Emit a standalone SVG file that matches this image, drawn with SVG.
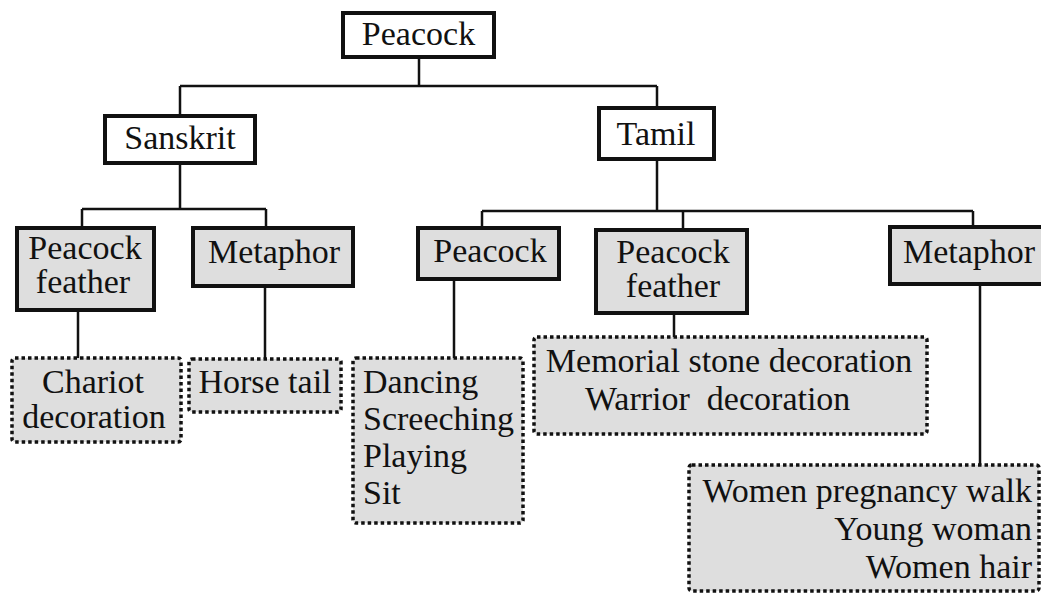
<svg xmlns="http://www.w3.org/2000/svg" width="1041" height="593" viewBox="0 0 1041 593">
<style>
text{font-family:'Liberation Serif',serif;font-size:34px;fill:#111}
.solid{fill:#fff;stroke:#111;stroke-width:4}
.sg{fill:#dedede;stroke:#111;stroke-width:4}
.dot{fill:#dedede;stroke:#111;stroke-width:3.5;stroke-dasharray:3.5 3}
.c{fill:none;stroke:#111;stroke-width:2.5}
</style>
<rect width="1041" height="593" fill="#fff"/>
<g id="connectors">
<path class="c" d="M419 57V86M180 86H657M180 86V116M657 86V108"/>
<path class="c" d="M180 163V209M82 209H266M82 209V228M266 209V228"/>
<path class="c" d="M657 159V211M482 211H973M482 211V228M683 211V230M973 211V230"/>
<path class="c" d="M78 310V358M265 286V359M454 279V358M674 313V337M980 286V465"/>
</g>
<g font-family="Liberation Serif, serif" font-size="34">
<g id="n-root"><rect class="solid" x="343" y="13" width="151" height="44"/><text x="418.5" y="45" text-anchor="middle">Peacock</text></g>
<g id="n-sanskrit"><rect class="solid" x="105" y="116" width="150" height="47"/><text x="180" y="149" text-anchor="middle">Sanskrit</text></g>
<g id="n-tamil"><rect class="solid" x="599" y="108" width="115" height="51"/><text x="656" y="145" text-anchor="middle">Tamil</text></g>
<g id="n-s-feather"><rect class="sg" x="17" y="228" width="137" height="82"/><text x="85" y="259" text-anchor="middle">Peacock</text><text x="83" y="293" text-anchor="middle">feather</text></g>
<g id="n-s-metaphor"><rect class="sg" x="193" y="228" width="160" height="58"/><text x="274" y="263" text-anchor="middle">Metaphor</text></g>
<g id="n-t-peacock"><rect class="sg" x="418" y="228" width="141" height="51"/><text x="490" y="262" text-anchor="middle">Peacock</text></g>
<g id="n-t-feather"><rect class="sg" x="596" y="230" width="151" height="83"/><text x="673" y="263" text-anchor="middle">Peacock</text><text x="673" y="297" text-anchor="middle">feather</text></g>
<g id="n-t-metaphor"><rect class="sg" x="890" y="227" width="170" height="57"/><text x="903" y="263">Metaphor</text></g>
<g id="n-chariot"><rect class="dot" x="12" y="358" width="169" height="84" rx="3"/><text x="93" y="393" text-anchor="middle">Chariot</text><text x="94" y="428" text-anchor="middle">decoration</text></g>
<g id="n-horse"><rect class="dot" x="189" y="359" width="152" height="53" rx="3"/><text x="265" y="393" text-anchor="middle">Horse tail</text></g>
<g id="n-dancing"><rect class="dot" x="353" y="358" width="170" height="165" rx="3"/><text x="363" y="393">Dancing</text><text x="363" y="430">Screeching</text><text x="363" y="467">Playing</text><text x="363" y="504">Sit</text></g>
<g id="n-memorial"><rect class="dot" x="534" y="337" width="393" height="97" rx="3"/><text x="729" y="372" text-anchor="middle">Memorial stone decoration</text><text x="585" y="410" style="white-space:pre">Warrior  decoration</text></g>
<g id="n-women"><rect class="dot" x="689" y="465" width="350" height="126" rx="3"/><text x="1032" y="502" text-anchor="end">Women pregnancy walk</text><text x="1032" y="540" text-anchor="end">Young woman</text><text x="1032" y="578" text-anchor="end">Women hair</text></g>
</g>
</svg>
